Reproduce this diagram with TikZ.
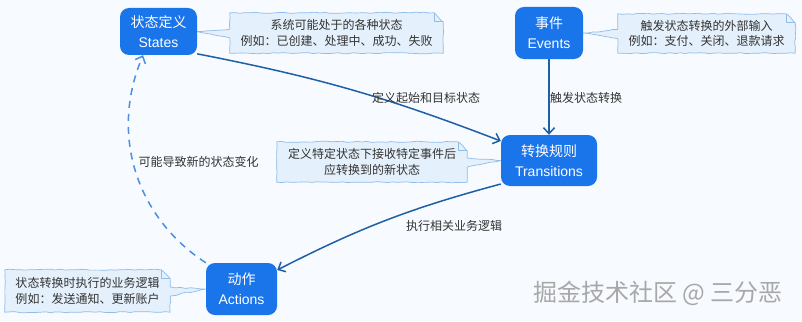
\documentclass[tikz,border=0pt]{standalone}
\usepackage{fontspec}
\setmainfont{Noto Sans CJK SC}
\newfontfamily\latinfont{Liberation Sans}
\usetikzlibrary{arrows.meta,decorations.pathmorphing,calc,backgrounds}
\definecolor{bg}{HTML}{F7FAFE}
\definecolor{nodeblue}{HTML}{1A74EA}
\definecolor{edgeblue}{HTML}{1F5FA6}
\definecolor{dashblue}{HTML}{4A8FE0}
\definecolor{notefill}{HTML}{E4F0FB}
\definecolor{noteline}{HTML}{8FBCE8}
\definecolor{txt}{HTML}{333333}
\definecolor{wmgray}{HTML}{A8A8A8}
\begin{document}
\begin{tikzpicture}[x=1pt,y=-1pt,
  main/.style={fill=nodeblue,rounded corners=9pt,text=white,align=center,font=\fontsize{14}{20}\selectfont,inner sep=0pt},
  notetext/.style={inner sep=0pt,font=\fontsize{12}{15.5}\selectfont,text=txt,align=center},
  notebox/.style={fill=notefill,draw=noteline,line width=0.7pt,line join=round,decorate,decoration={random steps,segment length=5pt,amplitude=0.6pt}},
  foldline/.style={draw=noteline,line width=0.7pt,line join=round},
  flow/.style={draw=edgeblue,line width=1.5pt,-{Straight Barb[length=6pt,width=11pt,line width=1.5pt]}},
  dashflow/.style={draw=dashblue,line width=1.5pt,dash pattern=on 7pt off 6pt,-{Straight Barb[length=6pt,width=11pt,line width=1.5pt]}},
  lbl/.style={font=\fontsize{12}{14}\selectfont,text=txt,inner sep=1pt}
]
\useasboundingbox (0,0) rectangle (802,321);
\begin{scope}[on background layer]
  \fill[bg] (0,0) rectangle (802,321);
\end{scope}

% main nodes
\node[main,minimum width=77,minimum height=47] (States) at (158.5,31.5) {状态定义\\{\latinfont States}};
\node[main,minimum width=68,minimum height=52] (Events) at (549,33) {事件\\{\latinfont Events}};
\node[main,minimum width=96,minimum height=51] (Transitions) at (549,160.5) {转换规则\\{\latinfont Transitions}};
\node[main,minimum width=71,minimum height=52] (Actions) at (241.5,289) {动作\\{\latinfont Actions}};

% note texts
\node[notetext,minimum width=213,minimum height=40] (sn) at (336.5,33) {系统可能处于的各种状态\\例如：已创建、处理中、成功、失败};
\node[notetext,minimum width=177,minimum height=39] (en) at (706.5,33.5) {触发状态转换的外部输入\\例如：支付、关闭、退款请求};
\node[notetext,minimum width=190,minimum height=40] (tn) at (372,162) {定义特定状态下接收特定事件后\\应转换到的新状态};
\node[notetext,align=left,minimum width=165,minimum height=42] (an) at (87.5,291) {状态转换时执行的业务逻辑\\例如：发送通知、更新账户};

% note boxes
\begin{scope}[on background layer]
  \path[notebox] (sn.north west) -- ([xshift=-9]sn.north east) -- ([yshift=-9]sn.north east) -- (sn.south east) -- (sn.south west) -- ([yshift=-5]sn.west) -- (States.east) -- ([yshift=4]sn.west) -- cycle;
  \draw[foldline] ([xshift=-9]sn.north east) -- ([xshift=-9,yshift=-9]sn.north east) -- ([yshift=-9]sn.north east);
  \path[notebox] (en.north west) -- ([xshift=-9]en.north east) -- ([yshift=-9]en.north east) -- (en.south east) -- (en.south west) -- ([yshift=-5]en.west) -- (Events.east) -- ([yshift=4]en.west) -- cycle;
  \draw[foldline] ([xshift=-9]en.north east) -- ([xshift=-9,yshift=-9]en.north east) -- ([yshift=-9]en.north east);
  \path[notebox] (tn.north west) -- ([xshift=-9]tn.north east) -- ([yshift=-9]tn.north east) -- ([yshift=4]tn.east) -- (Transitions.west) -- ([yshift=-5]tn.east) -- (tn.south east) -- (tn.south west) -- cycle;
  \draw[foldline] ([xshift=-9]tn.north east) -- ([xshift=-9,yshift=-9]tn.north east) -- ([yshift=-9]tn.north east);
  \path[notebox] (an.north west) -- ([xshift=-9]an.north east) -- ([yshift=-9]an.north east) -- ([yshift=4]an.east) -- (Actions.west) -- ([yshift=-5]an.east) -- (an.south east) -- (an.south west) -- cycle;
  \draw[foldline] ([xshift=-9]an.north east) -- ([xshift=-9,yshift=-9]an.north east) -- ([yshift=-9]an.north east);
\end{scope}

% connectors
\draw[flow] (States.330) to[bend left=5] (Transitions.158);
\draw[flow] (Events) -- (Transitions);
\draw[flow] (Transitions.206) to[bend right=6] (Actions.28);
\draw[dashflow] (Actions.north west) to[bend left=40] (States.237);

% labels
\node[lbl] (l1) at (426,98) {定义起始和目标状态};
\node[lbl] (l2) at (586,98) {触发状态转换};
\node[lbl] (l3) at (454,226) {执行相关业务逻辑};
\node[lbl] (l4) at (198.5,162) {可能导致新的状态变化};

% watermark
\node[font=\fontsize{24}{24}\selectfont,text=wmgray] (wm) at (658,293) {掘金技术社区 @ 三分恶};
\end{tikzpicture}
\end{document}
